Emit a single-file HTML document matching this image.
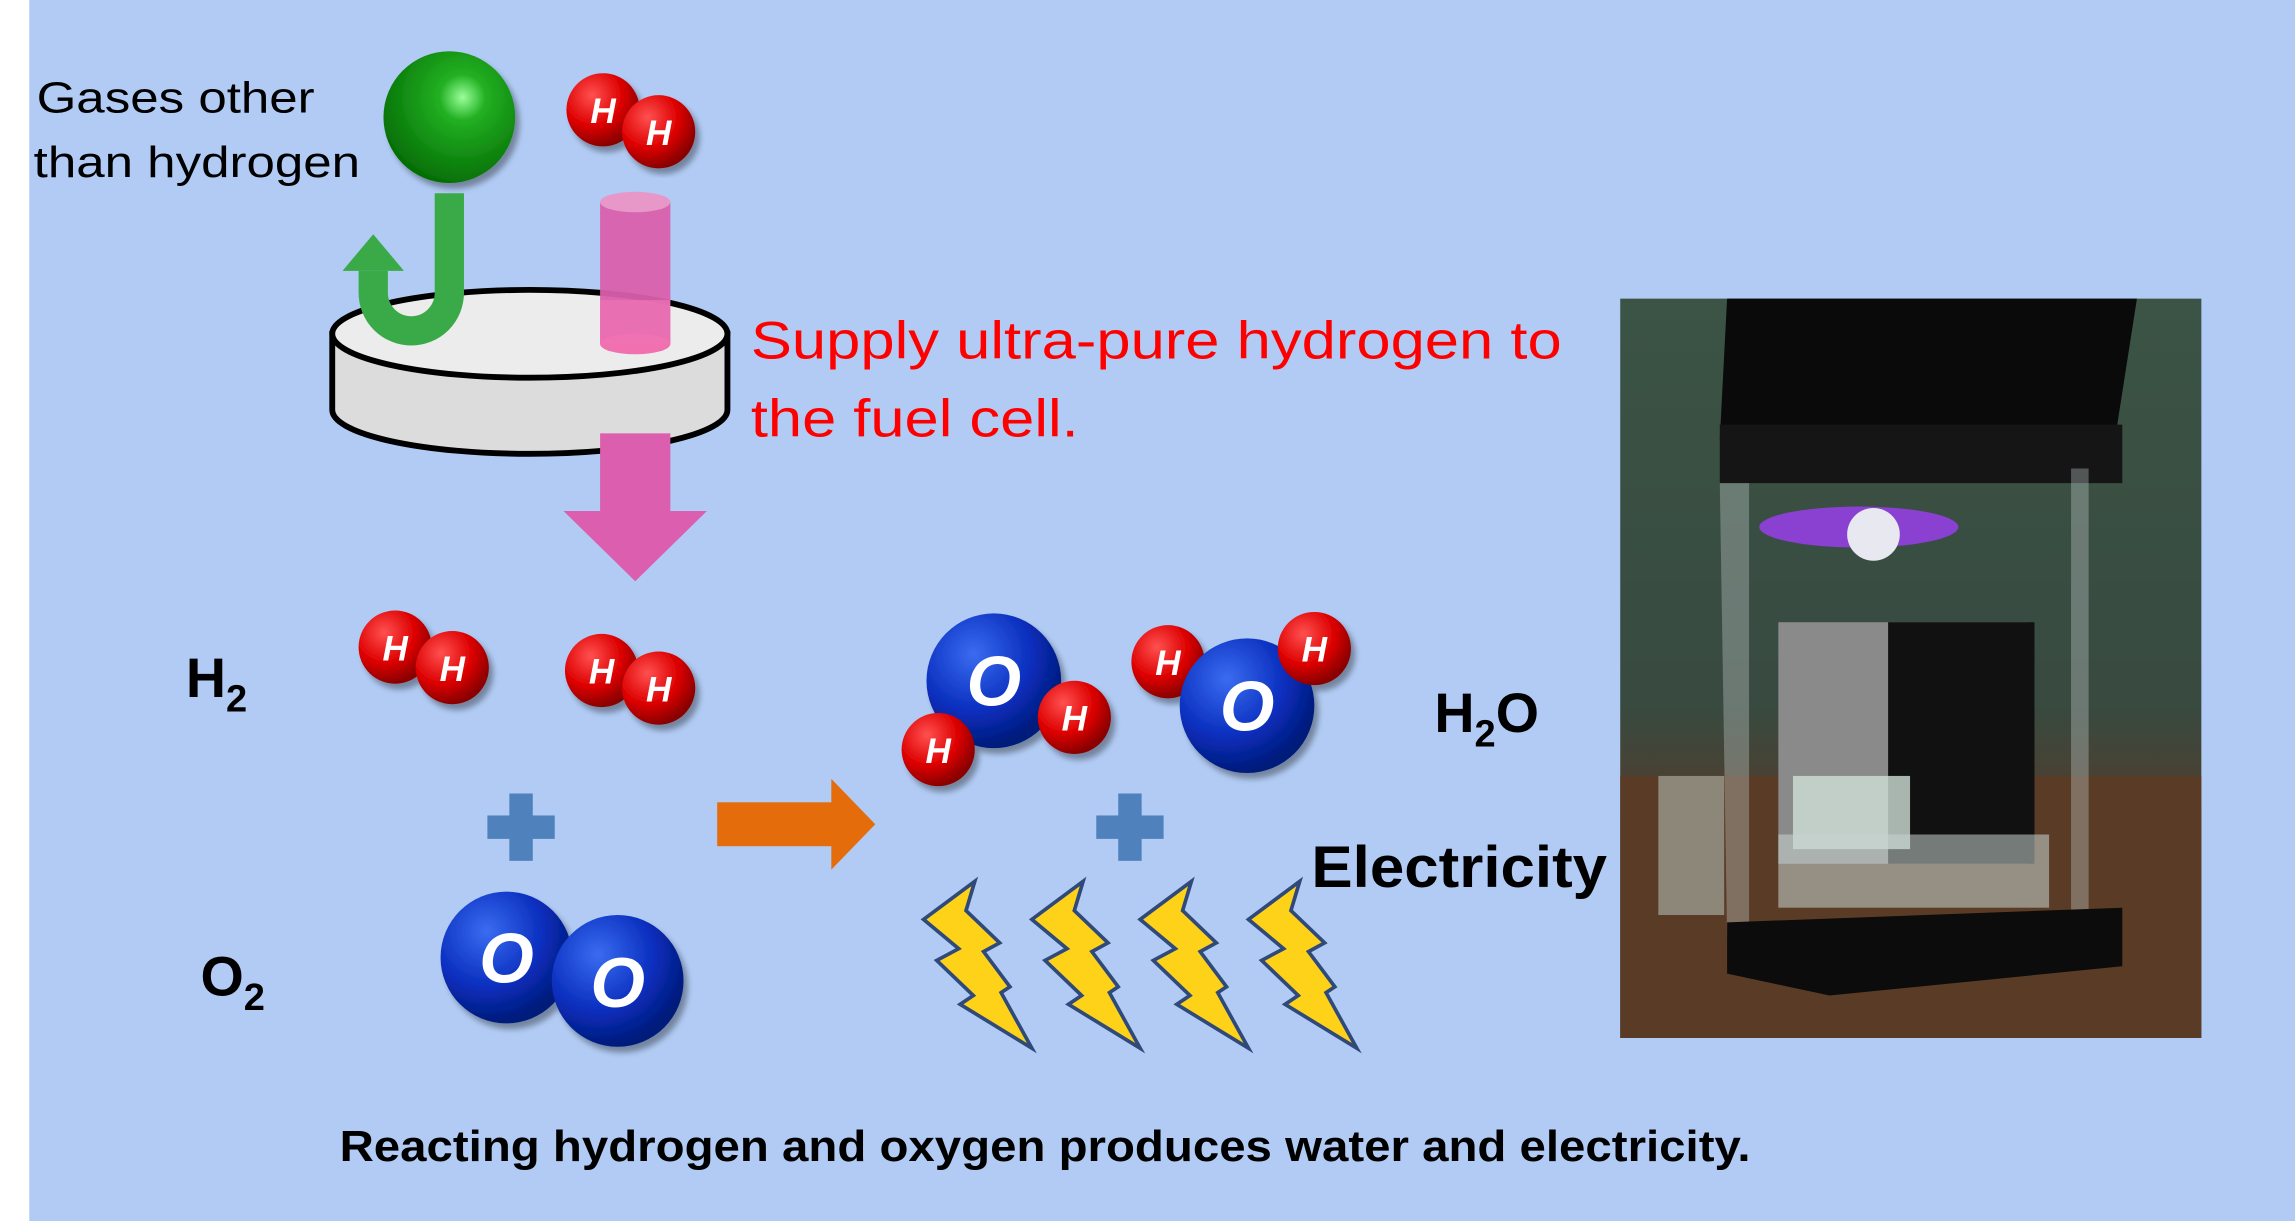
<!DOCTYPE html>
<html><head><meta charset="utf-8"><style>
html,body{margin:0;padding:0;width:2295px;height:1221px;overflow:hidden;background:#b0cbf5}
svg{display:block}
text{font-family:"Liberation Sans",sans-serif}
</style></head><body>
<svg width="2295" height="1221" viewBox="0 0 1568 834" preserveAspectRatio="none" xmlns="http://www.w3.org/2000/svg">
<defs>
<radialGradient id="red" cx="35%" cy="30%" r="70%"><stop offset="0" stop-color="#ff5050"/><stop offset="0.6" stop-color="#dd0000"/><stop offset="1" stop-color="#8a0000"/></radialGradient>
<radialGradient id="blue" cx="35%" cy="30%" r="70%"><stop offset="0" stop-color="#3a6cf0"/><stop offset="0.6" stop-color="#0a2fbf"/><stop offset="1" stop-color="#021a7a"/></radialGradient>
<radialGradient id="green" cx="60%" cy="35%" r="70%"><stop offset="0" stop-color="#9aff9a"/><stop offset="0.25" stop-color="#22b022"/><stop offset="1" stop-color="#036a03"/></radialGradient>
<linearGradient id="photo" x1="0" y1="0" x2="0" y2="1"><stop offset="0" stop-color="#3f5a4a"/><stop offset="0.55" stop-color="#3c4e44"/><stop offset="0.7" stop-color="#5a3e2c"/><stop offset="1" stop-color="#4a3222"/></linearGradient>
<filter id="sh"><feDropShadow dx="3" dy="4" stdDeviation="2" flood-opacity="0.35"/></filter>
</defs>
<rect x="0" y="0" width="1568" height="834" fill="#b1cbf4"/>
<rect x="0" y="0" width="20" height="834" fill="#fff"/>

<text x="25" y="77" font-size="30" textLength="190" lengthAdjust="spacingAndGlyphs">Gases other</text>
<text x="23" y="121" font-size="30" textLength="223" lengthAdjust="spacingAndGlyphs">than hydrogen</text>

<circle cx="307" cy="80" r="45" fill="url(#green)" filter="url(#sh)"/>
<g filter="url(#sh)">
<circle cx="412" cy="75" r="25" fill="url(#red)"/><circle cx="450" cy="90" r="25" fill="url(#red)"/>
</g>
<text x="412" y="84" font-size="24" font-weight="bold" fill="#fff" text-anchor="middle" font-style="italic">H</text>
<text x="450" y="99" font-size="24" font-weight="bold" fill="#fff" text-anchor="middle" font-style="italic">H</text>

<path d="M227,228 L227,280 A135,30 0 0 0 497,280 L497,228 Z" fill="#dcdcdc" stroke="#000" stroke-width="4"/>
<ellipse cx="362" cy="228" rx="135" ry="30" fill="#ececec" stroke="#000" stroke-width="4"/>

<path d="M307,132 L307,200 A26,26 0 0 1 255,200 L255,185" fill="none" stroke="#3aaa48" stroke-width="20"/>
<polygon points="234,185 276,185 255,160" fill="#3aaa48"/>

<rect x="410" y="138" width="48" height="97" fill="#d95fac" opacity="0.95"/>
<ellipse cx="434" cy="138" rx="24" ry="7" fill="#e898c8"/>
<ellipse cx="434" cy="235" rx="24" ry="7" fill="#f070b0"/>
<rect x="410" y="205" width="48" height="30" fill="#f074b5" opacity="0.7"/>

<rect x="410" y="296" width="48" height="54" fill="#db5fae"/>
<polygon points="385,349 483,349 434,397" fill="#db5fae"/>

<text x="513" y="245" font-size="36" fill="#ff0000" textLength="554" lengthAdjust="spacingAndGlyphs">Supply ultra-pure hydrogen to</text>
<text x="513" y="298" font-size="36" fill="#ff0000" textLength="224" lengthAdjust="spacingAndGlyphs">the fuel cell.</text>

<text x="127" y="476" font-size="38" font-weight="bold">H<tspan font-size="26" dy="10">2</tspan></text>
<text x="137" y="680" font-size="38" font-weight="bold">O<tspan font-size="26" dy="10">2</tspan></text>

<g filter="url(#sh)">
<circle cx="270" cy="442" r="25" fill="url(#red)"/><circle cx="309" cy="456" r="25" fill="url(#red)"/>
<circle cx="411" cy="458" r="25" fill="url(#red)"/><circle cx="450" cy="470" r="25" fill="url(#red)"/>
</g>
<g font-size="24" font-weight="bold" fill="#fff" text-anchor="middle" font-style="italic">
<text x="270" y="451">H</text><text x="309" y="465">H</text>
<text x="411" y="467">H</text><text x="450" y="479">H</text>
</g>

<rect x="333" y="557" width="46" height="16" fill="#4f81bd"/><rect x="348" y="542" width="16" height="46" fill="#4f81bd"/>
<rect x="749" y="557" width="46" height="16" fill="#4f81bd"/><rect x="764" y="542" width="16" height="46" fill="#4f81bd"/>

<g filter="url(#sh)">
<circle cx="346" cy="654" r="45" fill="url(#blue)"/><circle cx="422" cy="670" r="45" fill="url(#blue)"/>
</g>
<g font-size="48" font-weight="bold" fill="#fff" text-anchor="middle" font-style="italic">
<text x="346" y="671">O</text><text x="422" y="688">O</text>
</g>

<rect x="490" y="548" width="80" height="30" fill="#e46c0a"/>
<polygon points="568,532 598,563 568,594" fill="#e46c0a"/>

<g filter="url(#sh)">
<circle cx="679" cy="465" r="46" fill="url(#blue)"/>
<circle cx="641" cy="512" r="25" fill="url(#red)"/>
<circle cx="734" cy="490" r="25" fill="url(#red)"/>
<circle cx="798" cy="452" r="25" fill="url(#red)"/>
<circle cx="852" cy="482" r="46" fill="url(#blue)"/>
<circle cx="898" cy="443" r="25" fill="url(#red)"/>
</g>
<g font-size="48" font-weight="bold" fill="#fff" text-anchor="middle" font-style="italic">
<text x="679" y="482">O</text><text x="852" y="499">O</text>
</g>
<g font-size="24" font-weight="bold" fill="#fff" text-anchor="middle" font-style="italic">
<text x="641" y="521">H</text><text x="734" y="499">H</text><text x="798" y="461">H</text><text x="898" y="452">H</text>
</g>

<text x="980" y="500" font-size="38" font-weight="bold">H<tspan font-size="26" dy="10">2</tspan><tspan dy="-10">O</tspan></text>
<text x="896" y="606" font-size="40" font-weight="bold" textLength="202" lengthAdjust="spacingAndGlyphs">Electricity</text>

<g fill="#ffd21a" stroke="#2f4a7a" stroke-width="2.5" stroke-linejoin="miter">
<path id="bolt" d="M666,602 L631,628 L655,648 L640,656 L665,680 L656,686 L705,716 L684,678 L690,674 L672,650 L683,644 L660,622 Z"/>
<use href="#bolt" x="74"/>
<use href="#bolt" x="148"/>
<use href="#bolt" x="222"/>
</g>

<rect x="1107" y="204" width="397" height="505" fill="url(#photo)"/>
<rect x="1107" y="204" width="397" height="505" fill="#2c3c34" opacity="0.2"/>
<rect x="1107" y="530" width="397" height="179" fill="#5a3c26"/>
<polygon points="1180,204 1460,204 1445,300 1175,300" fill="#0a0a0a"/>
<polygon points="1175,290 1450,290 1450,330 1175,330" fill="#151515"/>
<polygon points="1175,330 1195,330 1195,660 1180,640" fill="#c8d0d0" opacity="0.35"/>
<rect x="1415" y="320" width="12" height="320" fill="#c8d0d0" opacity="0.35"/>
<ellipse cx="1270" cy="360" rx="68" ry="14" fill="#8a40d0"/>
<ellipse cx="1280" cy="365" rx="18" ry="18" fill="#e8e8f0"/>
<rect x="1215" y="425" width="170" height="165" fill="#8a8a8a"/>
<rect x="1290" y="425" width="100" height="165" fill="#111"/>
<rect x="1225" y="530" width="80" height="50" fill="#cfe0d8" opacity="0.8"/>
<rect x="1215" y="570" width="185" height="50" fill="#c8d4d0" opacity="0.55"/>
<polygon points="1180,630 1450,620 1450,660 1250,680 1180,665" fill="#0c0c0c"/>
<rect x="1133" y="530" width="45" height="95" fill="#b8c4c0" opacity="0.55"/>

<text x="232" y="793" font-size="30" font-weight="bold" textLength="964" lengthAdjust="spacingAndGlyphs">Reacting hydrogen and oxygen produces water and electricity.</text>
</svg>
</body></html>
